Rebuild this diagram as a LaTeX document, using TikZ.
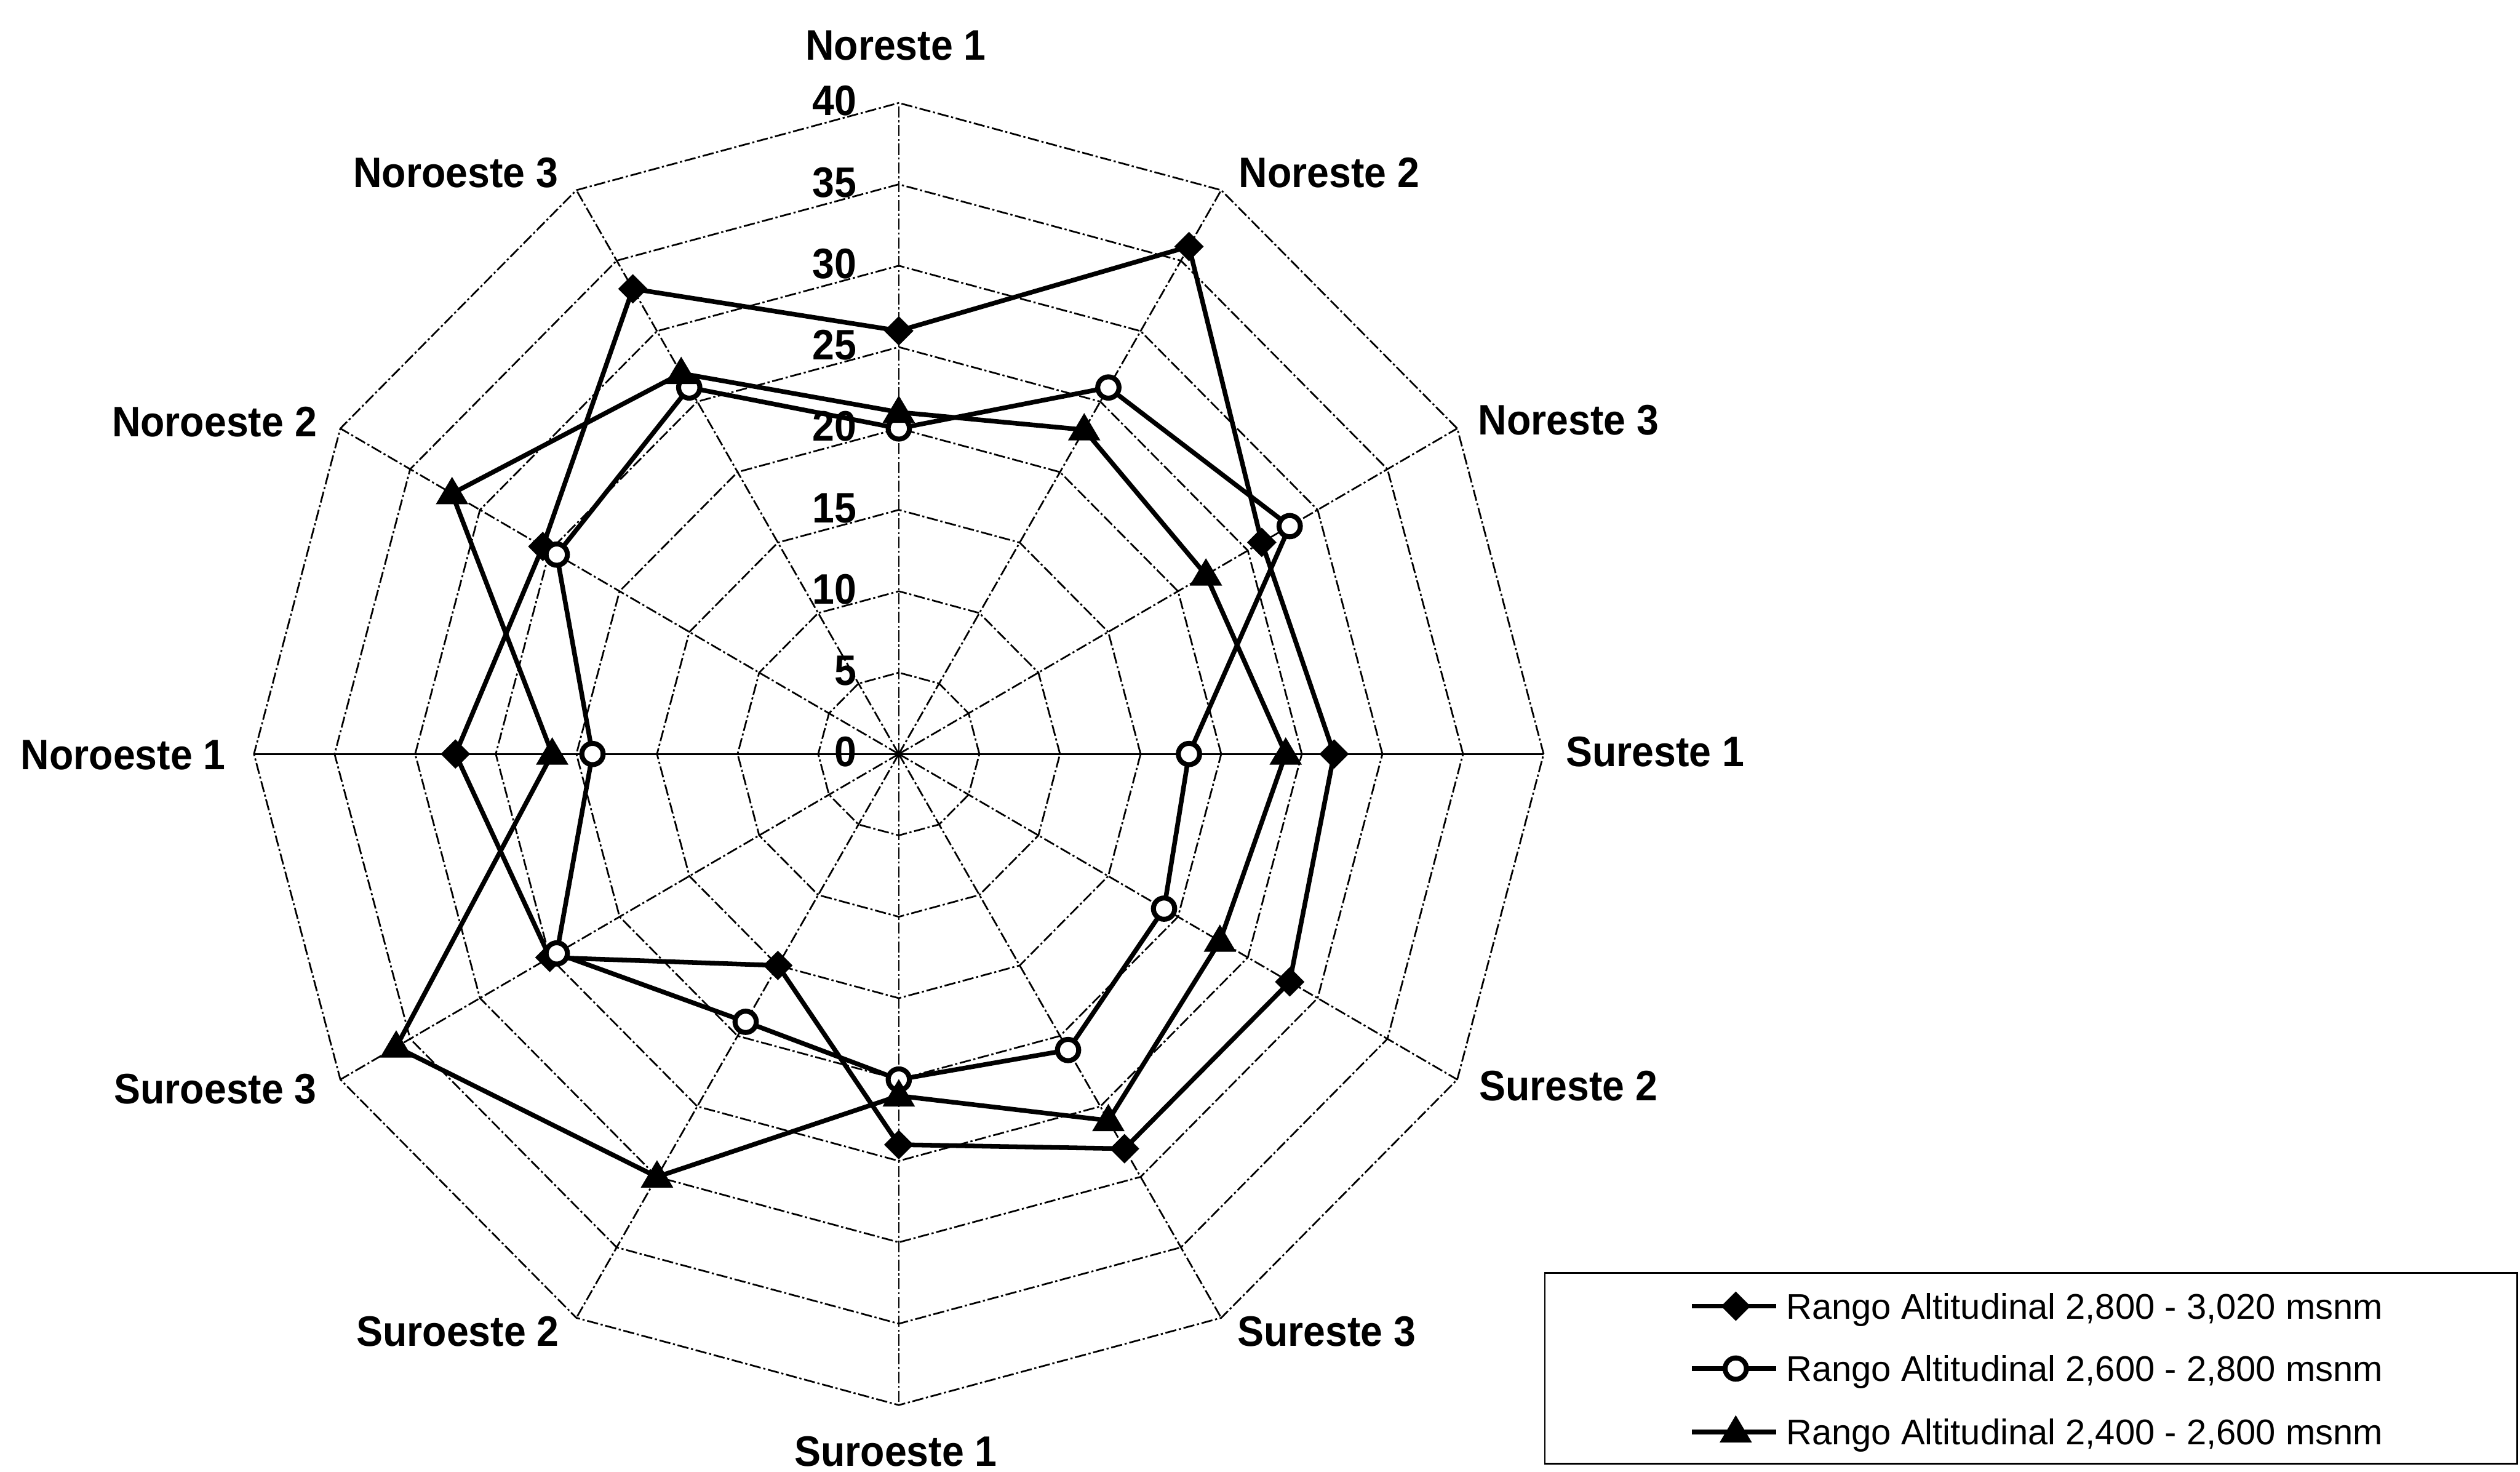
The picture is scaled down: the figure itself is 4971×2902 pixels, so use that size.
\documentclass[tikz,border=0pt]{standalone}
\usepackage{fontspec}
\setmainfont{Liberation Sans}
\newfontfamily\labfont[FakeStretch=0.93]{Liberation Sans}
\usetikzlibrary{calc}
\begin{document}
\begin{tikzpicture}[x=0.01cm,y=0.01cm,
  gridline/.style={line width=0.95pt, dash pattern=on 6.3pt off 1.5pt on 1.2pt off 1.5pt},
  solidaxis/.style={line width=0.95pt},
  series/.style={line width=2.6pt, line join=round},
  lab/.style={font=\labfont\bfseries\fontsize{23.9}{26}\selectfont, inner sep=0pt, text height=17.1pt, text depth=0pt},
  legtext/.style={font=\fontsize{20}{22}\selectfont, inner sep=0pt, text height=14.3pt, text depth=0pt, anchor=west},
  legbox/.style={draw, line width=1pt, inner sep=0pt}
]
\def\rx{31.8}\def\ry{32.1}
\useasboundingbox (-1773,-1415) rectangle (3198,1487);
\fill[white] (-1773,-1415) rectangle (3198,1487);
% grid rings
\foreach \r in {5,10,...,40}{
  \draw[gridline] ({\rx*\r},0) \foreach \a in {30,60,...,330}{ -- ({\rx*\r*cos(\a)},{\ry*\r*sin(\a)})} -- cycle;
}
% spokes
\coordinate (o) at (0,0);
\foreach \a in {0,30,...,330}{
  \coordinate (e\a) at ({\rx*40*cos(\a)},{\ry*40*sin(\a)});
}
\foreach \a in {30,60,90,120,150,210,240,270,300,330}{
  \draw[gridline] (o) -- (e\a);
}
\draw[solidaxis] (e180) -- (e0);
% tick labels
\foreach \t in {0,5,...,40}{
  \node[lab,anchor=east] (t\t) at (-83,{\ry*\t+5}) {\t};
}
% axis labels
\node[lab] (l0) at (-6,1399) {Noreste 1};
\node[lab] (l1) at (849,1148) {Noreste 2};
\node[lab] (l2) at (1321,660) {Noreste 3};
\node[lab] (l3) at (1492,5) {Sureste 1};
\node[lab] (l4) at (1321,-653) {Sureste 2};
\node[lab] (l5) at (844,-1138) {Sureste 3};
\node[lab] (l6) at (-6,-1374) {Suroeste 1};
\node[lab] (l7) at (-870,-1138) {Suroeste 2};
\node[lab] (l8) at (-1348,-659) {Suroeste 3};
\node[lab] (l9) at (-1530,0) {Noroeste 1};
\node[lab] (l10) at (-1350,656) {Noroeste 2};
\node[lab] (l11) at (-874,1148) {Noroeste 3};
% data points
\foreach \v [count=\k from 0] in {26,36,26,27,28,28,24,15,25,27.5,25.5,33}{
  \coordinate (a\k) at ({\rx*\v*cos(90-30*\k)},{\ry*\v*sin(90-30*\k)});
}
\foreach \v [count=\k from 0] in {20,26,28,18,19,21,20,19,24.5,19,24.5,26}{
  \coordinate (b\k) at ({\rx*\v*cos(90-30*\k)},{\ry*\v*sin(90-30*\k)});
}
\foreach \v [count=\k from 0] in {21,23,22,24,23,26,21,30,36,21.5,32,27}{
  \coordinate (c\k) at ({\rx*\v*cos(90-30*\k)},{\ry*\v*sin(90-30*\k)});
}
\draw[series] (a0)--(a1)--(a2)--(a3)--(a4)--(a5)--(a6)--(a7)--(a8)--(a9)--(a10)--(a11)--cycle;
\draw[series] (b0)--(b1)--(b2)--(b3)--(b4)--(b5)--(b6)--(b7)--(b8)--(b9)--(b10)--(b11)--cycle;
\draw[series] (c0)--(c1)--(c2)--(c3)--(c4)--(c5)--(c6)--(c7)--(c8)--(c9)--(c10)--(c11)--cycle;
% markers
\foreach \k in {0,...,11}{
  \fill[shift={(a\k)}] (0,29) -- (29,0) -- (0,-29) -- (-29,0) -- cycle;
  \filldraw[fill=white, line width=2.8pt] (b\k) circle (21);
  \fill[shift={(c\k)}] (0,33) -- (32,-21) -- (-32,-21) -- cycle;
}
% legend
\node[legbox, minimum width=19.17cm, minimum height=3.76cm] (leg) at (2233.5,-1212) {};
\coordinate (ls1) at (1565,-1089); \coordinate (le1) at (1731,-1089); \coordinate (lm1) at (1651,-1089);
\coordinate (ls2) at (1565,-1212); \coordinate (le2) at (1731,-1212); \coordinate (lm2) at (1651,-1212);
\coordinate (ls3) at (1565,-1337); \coordinate (le3) at (1731,-1337); \coordinate (lm3) at (1651,-1337);
\draw[series] (ls1) -- (le1);
\draw[series] (ls2) -- (le2);
\draw[series] (ls3) -- (le3);
\fill[shift={(lm1)}] (0,29) -- (29,0) -- (0,-29) -- (-29,0) -- cycle;
\filldraw[fill=white, line width=2.8pt] (lm2) circle (21);
\fill[shift={(lm3)}] (0,33) -- (32,-21) -- (-32,-21) -- cycle;
\node[legtext] (lt1) at (1750,-1089) {Rango Altitudinal 2,800 - 3,020 msnm};
\node[legtext] (lt2) at (1750,-1212) {Rango Altitudinal 2,600 - 2,800 msnm};
\node[legtext] (lt3) at (1750,-1337) {Rango Altitudinal 2,400 - 2,600 msnm};
\end{tikzpicture}
\end{document}
